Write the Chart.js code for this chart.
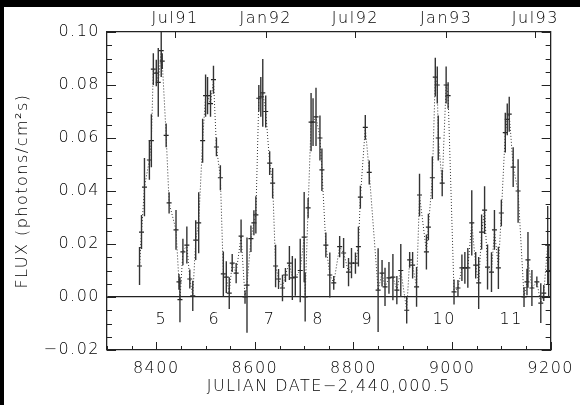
<!DOCTYPE html>
<html>
<head>
<meta charset="utf-8">
<script src="https://cdn.jsdelivr.net/npm/chart.js@4.4.1/dist/chart.umd.min.js"></script>
<style>
  html, body { margin: 0; padding: 0; background: #000; }
  #wrap { position: absolute; left: 4px; top: 7px; width: 576px; height: 398px; background: #fff; }
</style>
</head>
<body>
<div id="wrap"><canvas id="flux-chart"></canvas></div>
<script>
// OBSERVATIONS, day = JD - 2,440,000.5
const days = [8366, 8370, 8376, 8386, 8390, 8394, 8400, 8404, 8410, 8412, 8420, 8426, 8440, 8446, 8448, 8454, 8462, 8468, 8474, 8480,
  8486, 8494, 8500, 8504, 8510, 8516, 8522, 8530, 8536, 8542, 8548, 8554, 8562, 8572, 8580, 8584, 8592, 8598, 8602, 8608,
  8612, 8616, 8622, 8630, 8636, 8642, 8648, 8656, 8662, 8670, 8676, 8682, 8692, 8700, 8702, 8708, 8714, 8718, 8724, 8732,
  8736, 8744, 8752, 8760, 8772, 8780, 8790, 8796, 8804, 8810, 8814, 8824, 8832, 8850, 8858, 8864, 8872, 8880, 8888, 8896,
  8908, 8914, 8920, 8928, 8934, 8948, 8952, 8960, 8966, 8970, 8972, 8980, 8988, 8992, 9004, 9012, 9020, 9026, 9032, 9040,
  9048, 9054, 9060, 9066, 9072, 9080, 9086, 9094, 9100, 9108, 9112, 9116, 9124, 9134, 9146, 9152, 9154, 9162, 9172, 9180,
  9186, 9194, 9196];
const flux = [0.0117, 0.0245, 0.0415, 0.0517, 0.059, 0.086, 0.0845, 0.081, 0.093, 0.089, 0.061, 0.0355, 0.0253, 0.0057, -0.001, 0.017, 0.0196, 0.0068, 0.0004, 0.0215,
  0.028, 0.059, 0.076, 0.076, 0.073, 0.082, 0.0566, 0.045, 0.0087, 0.0075, 0.0015, 0.0128, 0.009, 0.023, 0.0, 0.0045, 0.022, 0.028, 0.031, 0.075,
  0.0755, 0.077, 0.070, 0.0505, 0.043, 0.0117, 0.0068, 0.0034, 0.0083, 0.0128, 0.0072, 0.0075, 0.010, 0.0226, 0.0, 0.0336, 0.066, 0.066, 0.068, 0.060,
  0.048, 0.0196, 0.0083, 0.0053, 0.019, 0.0166, 0.0094, 0.0128, 0.0128, 0.019, 0.0377, 0.064, 0.047, 0.0026, 0.009, 0.0038, 0.0072, 0.0075, 0.0026, 0.010,
  -0.005, 0.014, 0.012, 0.0038, 0.0385, 0.017, 0.0264, 0.045, 0.083, 0.080, 0.060, 0.043, 0.080, 0.076, 0.0019, 0.0034, 0.011, 0.011, 0.011, 0.028,
  0.012, 0.0053, 0.0245, 0.0328, 0.0113, 0.0094, 0.0253, 0.011, 0.0317, 0.062, 0.067, 0.069, 0.049, 0.040, 0.0, 0.0057, 0.014, 0.0034, 0.0057, -0.0023,
  0.0015, 0.0196, 0.010];
const fluxErr = [0.0072, 0.0064, 0.011, 0.0075, 0.010, 0.006, 0.005, 0.013, 0.010, 0.003, 0.0045, 0.004, 0.0075, 0.003, 0.0085, 0.005, 0.007, 0.0036, 0.0057, 0.0075,
  0.0115, 0.0083, 0.008, 0.007, 0.005, 0.0053, 0.0035, 0.0047, 0.0085, 0.006, 0.006, 0.0034, 0.0038, 0.0062, 0.0025, 0.018, 0.005, 0.0047, 0.007, 0.005,
  0.0075, 0.0128, 0.006, 0.0045, 0.0057, 0.008, 0.0038, 0.005, 0.0026, 0.0064, 0.0083, 0.007, 0.012, 0.017, 0.0092, 0.0038, 0.011, 0.009, 0.011, 0.0085,
  0.008, 0.0047, 0.0085, 0.0026, 0.004, 0.0057, 0.0053, 0.0057, 0.004, 0.0075, 0.0043, 0.0047, 0.0045, 0.0158, 0.005, 0.0072, 0.006, 0.0087, 0.0053, 0.010,
  0.005, 0.003, 0.005, 0.0075, 0.008, 0.0066, 0.005, 0.008, 0.0073, 0.007, 0.0085, 0.005, 0.007, 0.005, 0.0047, 0.003, 0.005, 0.006, 0.0075, 0.0123,
  0.005, 0.0098, 0.0066, 0.009, 0.0085, 0.0075, 0.0075, 0.008, 0.005, 0.0075, 0.006, 0.0066, 0.0075, 0.012, 0.0038, 0.005, 0.0105, 0.0068, 0.002, 0.0075,
  0.003, 0.0147, 0.010];

// OUTBURST NUMBERS
const cycleNums = ["5", "6", "7", "8", "9", "10", "11"];
const cycleDays = [8410, 8518, 8630, 8728, 8828, 8984, 9120];
const cycleFlux = -0.0085;

// CALENDAR MARKS ON THE TOP AXIS
const monthDays = [8438, 8622, 8804, 8988, 9169];
const monthLabels = ["Jul91", "Jan92", "Jul92", "Jan93", "Jul93"];

// BOTTOM / LEFT TICK LABELS
const xTicks = [8400, 8600, 8800, 9000, 9200];
const yTicks = [-0.02, 0, 0.02, 0.04, 0.06, 0.08, 0.10];

const X_MIN = 8300, X_MAX = 9200, Y_MIN = -0.02, Y_MAX = 0.10;
const INK = '#222';
const TEXT = '#000';
const FONT = { family: "'DejaVu Sans', sans-serif", size: 16, weight: 200 };

// wide, thin lettering for every label
const lettering = {
  id: 'lettering',
  beforeDraw(chart) { chart.ctx.letterSpacing = '1.5px'; }
};

// vertical error bars, one per observation
const errorBars = {
  id: 'errorBars',
  afterDatasetsDraw(chart) {
    const { ctx, chartArea: a, scales: { x, y } } = chart;
    ctx.save();
    ctx.beginPath();
    ctx.rect(a.left, a.top, a.right - a.left, a.bottom - a.top);
    ctx.clip();
    ctx.strokeStyle = '#333';
    ctx.lineWidth = 1.4;
    ctx.beginPath();
    days.forEach((d, i) => {
      const px = x.getPixelForValue(d);
      ctx.moveTo(px, y.getPixelForValue(flux[i] - fluxErr[i]));
      ctx.lineTo(px, y.getPixelForValue(flux[i] + fluxErr[i]));
    });
    ctx.stroke();
    ctx.restore();
  }
};

// inward tick marks on all four sides + outburst numbers
const frameTicks = {
  id: 'frameTicks',
  afterDraw(chart) {
    const { ctx, chartArea: a, scales: { x, y } } = chart;
    ctx.save();
    ctx.strokeStyle = INK;
    ctx.lineWidth = 1;
    ctx.beginPath();
    for (let d = X_MIN; d <= X_MAX; d += 50) {
      const px = Math.round(x.getPixelForValue(d)) + 0.5;
      const len = d % 200 === 0 ? 8 : 4;
      ctx.moveTo(px, a.bottom);
      ctx.lineTo(px, a.bottom - len);
    }
    for (let k = -4; k <= 20; k++) {
      const py = Math.round(y.getPixelForValue(k * 0.005)) + 0.5;
      const len = k % 4 === 0 ? 9 : 5;
      ctx.moveTo(a.left, py);
      ctx.lineTo(a.left + len, py);
      ctx.moveTo(a.right, py);
      ctx.lineTo(a.right - len, py);
    }
    monthDays.forEach(d => {
      const px = Math.round(x.getPixelForValue(d)) + 0.5;
      ctx.moveTo(px, a.top);
      ctx.lineTo(px, a.top + 6);
    });
    ctx.stroke();

    ctx.fillStyle = TEXT;
    ctx.font = FONT.weight + ' ' + FONT.size + 'px ' + FONT.family;
    ctx.textAlign = 'center';
    ctx.textBaseline = 'middle';
    cycleNums.forEach((n, i) => {
      ctx.fillText(n, x.getPixelForValue(cycleDays[i]), y.getPixelForValue(cycleFlux));
    });
    ctx.restore();
  }
};

const border = { display: true, color: INK, width: 1.3 };

new Chart(document.getElementById('flux-chart'), {
  type: 'scatter',
  data: {
    datasets: [{
      data: days.map((d, i) => ({ x: d, y: flux[i] })),
      showLine: true,
      borderColor: '#333',
      borderWidth: 1,
      borderDash: [1, 2],
      pointStyle: 'line',
      pointRadius: 2.5,
      pointBorderColor: INK,
      pointBorderWidth: 1.2,
      pointBackgroundColor: INK
    }]
  },
  options: {
    responsive: true,
    maintainAspectRatio: false,
    animation: false,
    layout: { padding: 0 },
    plugins: { legend: { display: false }, tooltip: { enabled: false } },
    scales: {
      x: {
        type: 'linear', position: 'bottom', min: X_MIN, max: X_MAX,
        afterFit: s => { s.height = 55; },
        afterBuildTicks: s => { s.ticks = xTicks.map(v => ({ value: v })); },
        ticks: { color: TEXT, font: FONT, padding: 9, maxRotation: 0, autoSkip: false, callback: v => String(v) },
        grid: { display: false, drawTicks: false },
        border,
        title: { display: true, text: 'JULIAN DATE\u22122,440,000.5', color: TEXT, font: FONT, padding: { bottom: 9 } }
      },
      x2: {
        type: 'linear', position: 'top', min: X_MIN, max: X_MAX,
        afterFit: s => { s.height = 25; },
        afterBuildTicks: s => { s.ticks = monthDays.map(v => ({ value: v })); },
        ticks: { color: TEXT, font: FONT, padding: 4, maxRotation: 0, autoSkip: false, callback: (v, i) => monthLabels[i] },
        grid: { display: false, drawTicks: false },
        border
      },
      y: {
        type: 'linear', position: 'left', min: Y_MIN, max: Y_MAX,
        afterFit: s => { s.width = 103; },
        afterBuildTicks: s => { s.ticks = yTicks.map(v => ({ value: v })); },
        ticks: {
          color: TEXT, font: FONT, padding: 7, autoSkip: false,
          callback: v => (v < 0 ? '\u2212' : '') + Math.abs(v).toFixed(2)
        },
        // only the zero line is drawn across the plot
        grid: {
          drawTicks: false, lineWidth: 1.2,
          color: c => (c.tick && c.tick.value === 0 ? INK : 'rgba(0,0,0,0)')
        },
        border,
        title: { display: true, text: 'FLUX (photons/cm\u00b2s)', color: TEXT, font: FONT, padding: { top: 9 } }
      },
      y2: {
        type: 'linear', position: 'right', min: Y_MIN, max: Y_MAX,
        afterFit: s => { s.width = 23; },
        ticks: { display: false },
        grid: { display: false, drawTicks: false },
        border
      }
    }
  },
  plugins: [lettering, errorBars, frameTicks]
});
</script>
</body>
</html>
